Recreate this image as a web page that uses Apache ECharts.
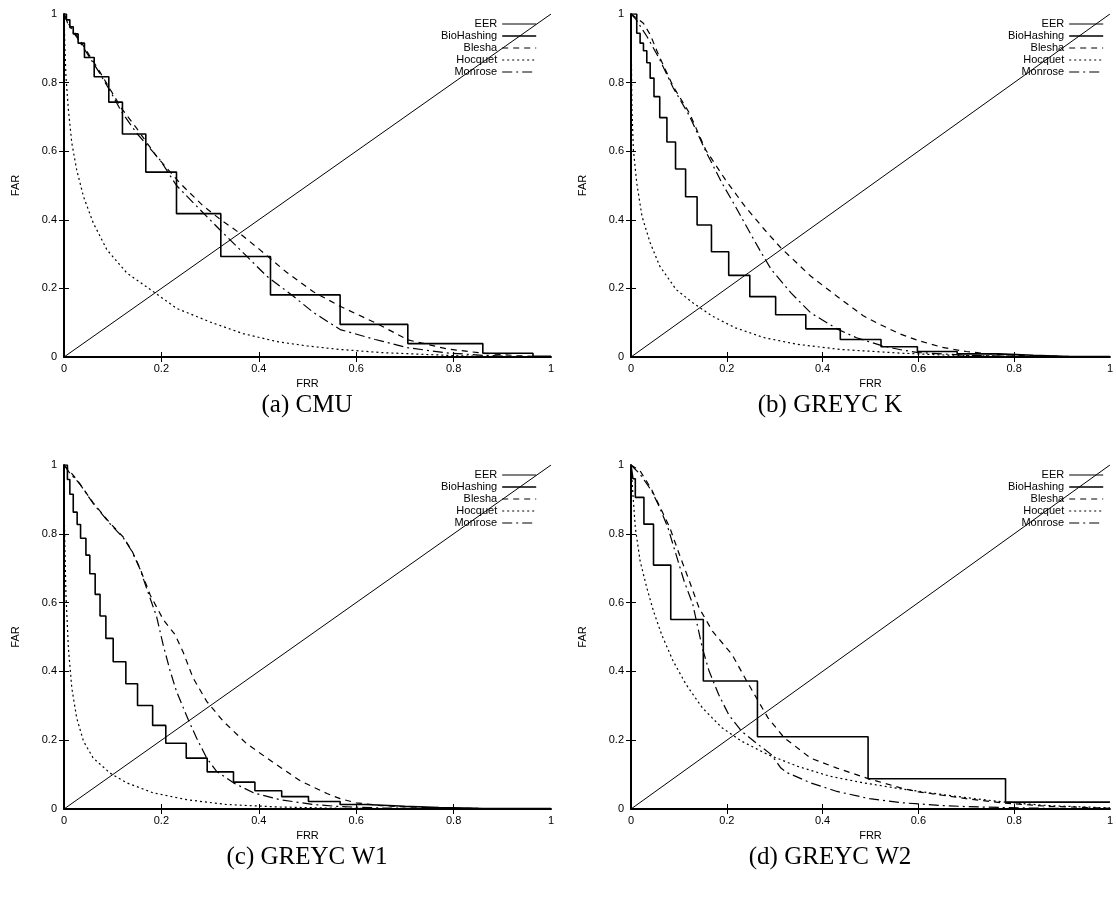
<!DOCTYPE html>
<html>
<head>
<meta charset="utf-8">
<script src="https://cdn.jsdelivr.net/npm/echarts@6/dist/echarts.min.js"></script>
<style>html,body{margin:0;padding:0;background:#fff;}#chart{width:1116px;height:898px;}</style>
</head>
<body>
<div id="chart"></div>
<script>
// ---------- data ----------
const axisTicks = [0, 0.2, 0.4, 0.6, 0.8, 1];
const innerTicks = [0.2, 0.4, 0.6, 0.8];
const seriesNames = ['EER', 'BioHashing', 'Blesha', 'Hocquet', 'Monrose'];
const panelCaptions = ['(a) CMU', '(b) GREYC K', '(c) GREYC W1', '(d) GREYC W2'];
const xTitle = 'FRR';
const yTitle = 'FAR';

const eerLine = [[0, 0], [1, 1]];

// (a) CMU
const cmuBioHashing = [[0,1],[0.005,0.983],[0.012,0.963],[0.019,0.942],[0.029,0.915],[0.042,0.873],[0.062,0.817],[0.092,0.743],[0.120,0.650],[0.168,0.539],[0.231,0.418],[0.322,0.293],[0.424,0.181],[0.567,0.095],[0.706,0.039],[0.860,0.011],[0.963,0.002],[1,0.002]];
const cmuBlesha = [[0,1],[0.01,0.97],[0.025,0.94],[0.043,0.9],[0.07,0.84],[0.095,0.78],[0.118,0.725],[0.149,0.667],[0.19,0.585],[0.238,0.507],[0.286,0.44],[0.322,0.4],[0.355,0.367],[0.402,0.313],[0.457,0.247],[0.512,0.19],[0.567,0.148],[0.646,0.095],[0.706,0.05],[0.785,0.024],[0.86,0.011],[0.93,0.004],[1,0]];
const cmuHocquet = [[0,1],[0.002,0.9],[0.004,0.818],[0.009,0.721],[0.016,0.624],[0.026,0.546],[0.04,0.468],[0.06,0.391],[0.088,0.313],[0.129,0.245],[0.177,0.197],[0.231,0.142],[0.3,0.102],[0.368,0.068],[0.437,0.045],[0.5,0.032],[0.567,0.022],[0.65,0.013],[0.75,0.007],[0.82,0.003],[0.9,0.001],[1,0]];
const cmuMonrose = [[0,1],[0.01,0.965],[0.025,0.935],[0.043,0.895],[0.07,0.835],[0.095,0.775],[0.118,0.715],[0.149,0.653],[0.197,0.575],[0.231,0.5],[0.279,0.43],[0.32,0.371],[0.375,0.294],[0.416,0.236],[0.471,0.177],[0.512,0.13],[0.567,0.08],[0.639,0.051],[0.706,0.027],[0.785,0.012],[0.86,0.005],[0.93,0.001],[1,0]];

// (b) GREYC K
const kBioHashing = [[0,1],[0.012,0.944],[0.019,0.915],[0.026,0.893],[0.033,0.858],[0.040,0.813],[0.048,0.759],[0.060,0.698],[0.075,0.627],[0.093,0.548],[0.114,0.467],[0.138,0.385],[0.168,0.307],[0.204,0.238],[0.248,0.176],[0.302,0.123],[0.365,0.082],[0.437,0.051],[0.522,0.030],[0.598,0.016],[0.681,0.009],[0.767,0.005],[0.84,0.002],[0.902,0.001],[1,0.001]];
const kBlesha = [[0,1],[0.01,0.99],[0.026,0.973],[0.04,0.94],[0.059,0.876],[0.088,0.789],[0.122,0.711],[0.156,0.604],[0.197,0.517],[0.238,0.439],[0.279,0.371],[0.313,0.318],[0.375,0.236],[0.43,0.177],[0.485,0.12],[0.52,0.095],[0.56,0.068],[0.6,0.048],[0.65,0.028],[0.7,0.016],[0.75,0.009],[0.8,0.005],[0.9,0.002],[1,0]];
const kHocquet = [[0,1],[0.001,0.85],[0.002,0.721],[0.005,0.604],[0.012,0.507],[0.023,0.41],[0.04,0.333],[0.06,0.265],[0.094,0.197],[0.129,0.158],[0.17,0.119],[0.218,0.085],[0.279,0.056],[0.347,0.037],[0.437,0.022],[0.567,0.011],[0.65,0.006],[0.75,0.003],[0.85,0.001],[1,0]];
const kMonrose = [[0,1],[0.01,0.985],[0.033,0.935],[0.059,0.87],[0.088,0.785],[0.122,0.703],[0.156,0.6],[0.19,0.507],[0.218,0.439],[0.245,0.371],[0.272,0.304],[0.293,0.255],[0.334,0.187],[0.375,0.129],[0.43,0.082],[0.471,0.056],[0.526,0.032],[0.567,0.02],[0.6,0.013],[0.7,0.005],[0.8,0.002],[0.9,0.001],[1,0]];

// (c) GREYC W1
const w1BioHashing = [[0,1],[0.007,0.958],[0.012,0.915],[0.019,0.863],[0.027,0.827],[0.034,0.787],[0.045,0.738],[0.053,0.684],[0.064,0.624],[0.074,0.561],[0.086,0.496],[0.101,0.428],[0.127,0.364],[0.151,0.301],[0.182,0.243],[0.209,0.191],[0.251,0.148],[0.294,0.108],[0.348,0.078],[0.392,0.053],[0.447,0.036],[0.502,0.022],[0.567,0.013],[0.62,0.008],[0.70,0.004],[0.77,0.002],[0.85,0.001],[1,0.001]];
const w1Blesha = [[0,1],[0.01,0.985],[0.026,0.958],[0.06,0.89],[0.094,0.832],[0.122,0.79],[0.139,0.752],[0.156,0.7],[0.177,0.622],[0.204,0.55],[0.228,0.507],[0.245,0.455],[0.265,0.381],[0.293,0.313],[0.327,0.255],[0.375,0.19],[0.43,0.135],[0.485,0.082],[0.54,0.045],[0.567,0.03],[0.6,0.018],[0.65,0.01],[0.7,0.006],[0.8,0.002],[0.9,0.001],[1,0]];
const w1Hocquet = [[0,1],[0.001,0.818],[0.004,0.624],[0.009,0.468],[0.016,0.352],[0.026,0.265],[0.04,0.197],[0.06,0.148],[0.094,0.105],[0.129,0.076],[0.183,0.047],[0.252,0.027],[0.334,0.013],[0.437,0.006],[0.567,0.002],[0.7,0.001],[1,0]];
const w1Monrose = [[0,1],[0.01,0.98],[0.033,0.944],[0.06,0.888],[0.094,0.83],[0.122,0.788],[0.139,0.75],[0.156,0.698],[0.17,0.64],[0.19,0.56],[0.204,0.475],[0.218,0.401],[0.231,0.342],[0.245,0.294],[0.255,0.26],[0.272,0.207],[0.293,0.148],[0.313,0.11],[0.348,0.076],[0.389,0.047],[0.444,0.027],[0.512,0.013],[0.567,0.007],[0.65,0.003],[0.75,0.001],[1,0]];

// (d) GREYC W2
const w2BioHashing = [[0,1],[0.004,0.96],[0.009,0.906],[0.027,0.828],[0.047,0.709],[0.083,0.551],[0.151,0.372],[0.264,0.21],[0.495,0.088],[0.782,0.02],[1,0.02]];
const w2Blesha = [[0,1],[0.019,0.983],[0.043,0.929],[0.081,0.818],[0.101,0.74],[0.122,0.662],[0.142,0.585],[0.17,0.517],[0.211,0.449],[0.242,0.371],[0.266,0.313],[0.286,0.265],[0.32,0.207],[0.375,0.148],[0.43,0.119],[0.498,0.087],[0.567,0.06],[0.6,0.05],[0.65,0.04],[0.7,0.03],[0.78,0.017],[0.87,0.008],[1,0.002]];
const w2Hocquet = [[0,1],[0.004,0.915],[0.009,0.818],[0.019,0.721],[0.033,0.643],[0.047,0.575],[0.064,0.507],[0.088,0.43],[0.115,0.362],[0.149,0.294],[0.19,0.236],[0.231,0.197],[0.286,0.158],[0.348,0.124],[0.416,0.095],[0.485,0.076],[0.567,0.058],[0.65,0.042],[0.7,0.033],[0.78,0.02],[0.87,0.01],[1,0.003]];
const w2Monrose = [[0,1],[0.019,0.973],[0.043,0.925],[0.06,0.876],[0.077,0.818],[0.094,0.74],[0.111,0.662],[0.129,0.595],[0.149,0.468],[0.163,0.401],[0.183,0.333],[0.204,0.274],[0.231,0.226],[0.266,0.187],[0.293,0.158],[0.313,0.119],[0.327,0.105],[0.375,0.076],[0.43,0.051],[0.498,0.03],[0.567,0.018],[0.65,0.01],[0.7,0.007],[0.78,0.004],[0.87,0.002],[1,0]];

const panelData = [
  [eerLine, cmuBioHashing, cmuBlesha, cmuHocquet, cmuMonrose],
  [eerLine, kBioHashing, kBlesha, kHocquet, kMonrose],
  [eerLine, w1BioHashing, w1Blesha, w1Hocquet, w1Monrose],
  [eerLine, w2BioHashing, w2Blesha, w2Hocquet, w2Monrose]
];

// ---------- layout / style ----------
const grids = [
  {left: 64, top: 14, width: 487, height: 343},
  {left: 631, top: 14, width: 487, height: 343},
  {left: 64, top: 465, width: 487, height: 344},
  {left: 631, top: 465, width: 487, height: 344}
];
const captionPos = [[307, 405], [830, 405], [307, 857], [830, 857]];
const legendPos = [{right: 579, top: 18}, {right: 12, top: 18}, {right: 579, top: 469}, {right: 12, top: 469}];

const lineStyles = {
  EER: {width: 1, type: 'solid'},
  BioHashing: {width: 1.6, type: 'solid'},
  Blesha: {width: 1.2, type: [6, 5]},
  Hocquet: {width: 1.2, type: [2, 3]},
  Monrose: {width: 1.2, type: [10, 4, 2, 4]}
};

const labelFont = {fontFamily: 'Liberation Sans, Arial, sans-serif', fontSize: 11, color: '#000'};

const xAxes = [], yAxes = [], series = [], legends = [], graphics = [];
grids.forEach((g, p) => {
  xAxes.push({
    type: 'value', gridIndex: p, position: 'bottom', min: 0, max: 1, interval: 0.2,
    name: xTitle, nameLocation: 'middle', nameGap: 21, nameTextStyle: labelFont,
    axisLine: {show: true, onZero: false, lineStyle: {color: '#000', width: 2}},
    axisTick: {show: true, inside: true, length: 5, customValues: innerTicks, lineStyle: {color: '#000', width: 1}},
    axisLabel: Object.assign({margin: 6, customValues: axisTicks, formatter: v => String(+v.toFixed(1))}, labelFont),
    splitLine: {show: false}
  });
  xAxes.push({
    type: 'value', gridIndex: p, position: 'top', min: 0, max: 1, interval: 0.2,
    axisLine: {show: false},
    axisTick: {show: true, inside: true, length: 5, customValues: innerTicks, lineStyle: {color: '#000', width: 1}},
    axisLabel: {show: false}, splitLine: {show: false}
  });
  yAxes.push({
    type: 'value', gridIndex: p, position: 'left', min: 0, max: 1, interval: 0.2,
    name: yTitle, nameLocation: 'middle', nameGap: 43, nameTextStyle: labelFont,
    axisLine: {show: true, onZero: false, lineStyle: {color: '#000', width: 2}},
    axisTick: {show: true, inside: true, length: 5, customValues: innerTicks, lineStyle: {color: '#000', width: 1}},
    axisLabel: Object.assign({margin: 7, customValues: axisTicks, formatter: v => String(+v.toFixed(1))}, labelFont),
    splitLine: {show: false}
  });
  yAxes.push({
    type: 'value', gridIndex: p, position: 'right', min: 0, max: 1, interval: 0.2,
    axisLine: {show: false},
    axisTick: {show: true, inside: true, length: 5, customValues: innerTicks, lineStyle: {color: '#000', width: 1}},
    axisLabel: {show: false}, splitLine: {show: false}
  });
  seriesNames.forEach((name, i) => {
    const s = {
      name: name, type: 'line', xAxisIndex: 2 * p, yAxisIndex: 2 * p,
      data: panelData[p][i], symbol: 'none', showSymbol: false, animation: false,
      lineStyle: Object.assign({color: '#000'}, lineStyles[name]),
      itemStyle: {color: '#000'}, z: 3
    };
    if (name === 'BioHashing') s.step = 'end';
    series.push(s);
  });
  legends.push(Object.assign({
    orient: 'vertical', align: 'right', data: seriesNames, selectedMode: false,
    itemWidth: 34, itemHeight: 12, itemGap: 0, padding: 0,
    itemStyle: {color: 'rgba(0,0,0,0)', borderColor: 'rgba(0,0,0,0)', borderWidth: 0},
    lineStyle: {width: 'inherit'},
    textStyle: {fontFamily: 'Liberation Sans, Arial, sans-serif', fontSize: 11, color: '#000', lineHeight: 12}
  }, legendPos[p]));
  graphics.push({
    type: 'text', x: captionPos[p][0], y: captionPos[p][1],
    style: {text: panelCaptions[p], font: '25px "Liberation Serif", "DejaVu Serif", serif', fill: '#000', textAlign: 'center', textVerticalAlign: 'middle'}
  });
});

const chart = echarts.init(document.getElementById('chart'), null, {renderer: 'canvas'});
chart.setOption({
  animation: false,
  backgroundColor: '#fff',
  grid: grids,
  xAxis: xAxes,
  yAxis: yAxes,
  legend: legends,
  series: series,
  graphic: graphics
});
</script>
</body>
</html>
